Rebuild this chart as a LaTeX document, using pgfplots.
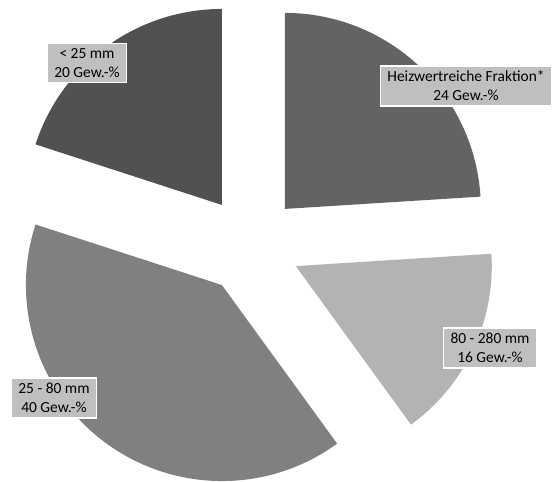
\documentclass[border=0pt]{standalone}
\usepackage{pgfplots}
\usepackage{pgfplotstable}
\pgfplotsset{compat=1.18}
\usepackage{fontspec}
\setmainfont{Carlito}

% shares in Gew.-%, clockwise from 12 o'clock
\pgfplotstableread[col sep=comma]{
share
24
16
40
20
}\piedata

\definecolor{sliceA}{RGB}{99,99,99}
\definecolor{sliceB}{RGB}{179,179,179}
\definecolor{sliceC}{RGB}{128,128,128}
\definecolor{sliceD}{RGB}{81,81,81}
\definecolor{labelfill}{RGB}{191,191,191}

\pgfplotstablegetelem{0}{share}\of\piedata \let\sA\pgfplotsretval
\pgfplotstablegetelem{1}{share}\of\piedata \let\sB\pgfplotsretval
\pgfplotstablegetelem{2}{share}\of\piedata \let\sC\pgfplotsretval
\pgfplotstablegetelem{3}{share}\of\piedata \let\sD\pgfplotsretval

% start/end angles of each wedge
\pgfmathsetmacro\aA{90}
\pgfmathsetmacro\bA{\aA-3.6*\sA}
\pgfmathsetmacro\bB{\bA-3.6*\sB}
\pgfmathsetmacro\bC{\bB-3.6*\sC}
\pgfmathsetmacro\bD{\bC-3.6*\sD}

\newcommand{\piewedge}[3]{% color, start, end
  \fill[#1] ([shift={({(#2+#3)/2}:49.5bp)}]axis cs:251,237)
    -- ++(#2:196bp) arc[start angle=#2, end angle=#3, radius=196bp] -- cycle;}

\tikzset{lbl/.style={fill=labelfill, draw=white, line width=1.6bp, align=center,
    inner xsep=7bp, inner ysep=5bp,
    font=\fontsize{15.5}{19}\selectfont}}

\begin{document}
\begin{tikzpicture}
\useasboundingbox (0,0) rectangle (552bp,482bp);
\begin{axis}[
  scale only axis, width=552bp, height=482bp,
  xmin=0, xmax=552, ymin=0, ymax=482,
  hide axis, clip=false,
]
\piewedge{sliceA}{\aA}{\bA}
\piewedge{sliceB}{\bA}{\bB}
\piewedge{sliceC}{\bB}{\bC}
\piewedge{sliceD}{\bC}{\bD}

\node[lbl] at (axis cs:466,396) {Heizwertreiche Fraktion*\\24 Gew.-\%};
\node[lbl] at (axis cs:490,134) {80 - 280 mm\\16 Gew.-\%};
\node[lbl] at (axis cs:54,84) {25 - 80 mm\\40 Gew.-\%};
\node[lbl] at (axis cs:87,419) {< 25 mm\\20 Gew.-\%};
\end{axis}
\end{tikzpicture}
\end{document}
